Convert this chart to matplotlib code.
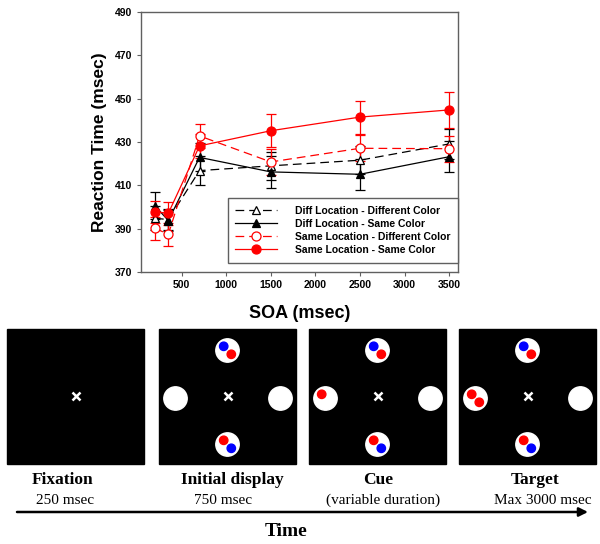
import matplotlib
matplotlib.use('Agg')
import matplotlib.pyplot as plt
from matplotlib.patches import Rectangle, Circle
from matplotlib.lines import Line2D

# --- reaction time data ---
soa = [200, 350, 700, 1500, 2500, 3500]
rt_dl_dc = [394.8, 394.2, 416.8, 419.0, 421.6, 429.1]
rt_dl_sc = [400.6, 393.7, 422.9, 416.2, 415.1, 423.2]
rt_sl_dc = [390.2, 387.4, 432.8, 420.8, 427.1, 426.9]
rt_sl_sc = [397.8, 397.1, 428.2, 435.2, 441.5, 444.8]
err_dl_dc = [5.5, 5.0, 6.8, 6.5, 6.5, 7.0]
err_dl_sc = [6.2, 5.0, 6.5, 7.3, 7.2, 7.2]
err_sl_dc = [5.4, 5.4, 5.5, 6.0, 6.0, 6.0]
err_sl_sc = [5.0, 5.4, 5.5, 7.7, 7.6, 8.2]
labels = ['Diff Location - Different Color', 'Diff Location - Same Color',
          'Same Location - Different Color', 'Same Location - Same Color']

# --- schematic of the trial sequence ---
display_names = ['Fixation', 'Initial display', 'Cue', 'Target']
display_times = ['250 msec', '750 msec', '(variable duration)', 'Max 3000 msec']
# dots inside the placeholders: (upper-left, lower-right) colour or None
display_items = [
    {},
    {'top': ('blue', 'red'), 'bottom': ('red', 'blue'), 'left': (None, None), 'right': (None, None)},
    {'top': ('blue', 'red'), 'bottom': ('red', 'blue'), 'left': ('red', None), 'right': (None, None)},
    {'top': ('blue', 'red'), 'bottom': ('red', 'blue'), 'left': ('red', 'red'), 'right': (None, None)},
]

sans = 'Liberation Sans'
serif = 'Liberation Serif'
gray = '#606060'

fig = plt.figure(figsize=(6.0, 5.44), dpi=100)
ax = fig.add_axes([140.7 / 600, 1 - 272 / 544, (458 - 140.7) / 600, 260 / 544])

series = [
    (rt_dl_dc, err_dl_dc, 'black', (0, (7, 4)), '^', 'white'),
    (rt_dl_sc, err_dl_sc, 'black', '-', '^', 'black'),
    (rt_sl_dc, err_sl_dc, '#ff0000', (0, (7, 4)), 'o', 'white'),
    (rt_sl_sc, err_sl_sc, '#ff0000', '-', 'o', '#ff0000'),
]
handles = []
for (y, e, c, ls, m, fc), lab in zip(series, labels):
    ms = 6.5 if m == 'o' else 6
    ax.errorbar(soa, y, yerr=e, color=c, ls=ls, lw=0.9, marker=m, ms=ms,
                mfc=fc, mec=c, mew=0.9, capsize=3.5, elinewidth=0.9, capthick=0.9)
    handles.append(Line2D([], [], color=c, ls=ls, lw=0.9, marker=m, ms=ms,
                          mfc=fc, mec=c, mew=0.9, label=lab))

ax.set_xlim(40, 3600)
ax.set_ylim(370, 490)
ax.set_xticks([500, 1000, 1500, 2000, 2500, 3000, 3500])
ax.set_yticks(range(370, 491, 20))
for s in ax.spines.values():
    s.set_color(gray)
    s.set_linewidth(1.0)
ax.tick_params(direction='out', length=3, width=0.8, color=gray, pad=3)
for t in ax.get_xticklabels() + ax.get_yticklabels():
    t.set_fontfamily(sans)
    t.set_fontweight('bold')
    t.set_fontsize(7.5)
ax.set_ylabel('Reaction Time (msec)', fontfamily=sans, fontweight='bold', fontsize=12.5, labelpad=5.5)
ax.set_xlabel('SOA (msec)', fontfamily=sans, fontweight='bold', fontsize=13, labelpad=10.5)

leg = ax.legend(handles=handles, loc='lower right', bbox_to_anchor=(1.0, 0.036), borderaxespad=0,
                prop={'family': sans, 'weight': 'bold', 'size': 7.5},
                handlelength=4.0, handletextpad=1.75, labelspacing=0.3,
                fancybox=False, framealpha=1, edgecolor=gray, borderpad=0.72)
leg.get_frame().set_linewidth(1.0)

# --- lower panel in pixel coordinates ---
bx = fig.add_axes([0, 0, 1, 1])
bx.set_xlim(0, 600)
bx.set_ylim(544, 0)
bx.axis('off')

sq_left = [7, 159, 309, 459]
sq_top = 329
sq_w, sq_h = 137, 135
offsets = {'top': (0, -46), 'bottom': (0, 48), 'left': (-52, 2), 'right': (53, 2)}
name_x = [63, 232, 378, 535]
time_x = [65, 223, 383, 543]

for i in range(4):
    cx = sq_left[i] + sq_w / 2
    cy = sq_top + sq_h / 2
    bx.add_patch(Rectangle((sq_left[i], sq_top), sq_w, sq_h, color='black'))
    bx.plot(cx, cy - 1, marker='x', color='white', ms=6, mew=1.8)
    for pos, dots in display_items[i].items():
        px, py = cx + offsets[pos][0], cy + offsets[pos][1]
        bx.add_patch(Circle((px, py), 11.7, color='white'))
        for col, (dx, dy) in zip(dots, [(-3.8, -4.2), (3.8, 3.8)]):
            if col is not None:
                bx.add_patch(Circle((px + dx, py + dy), 4.2,
                                    color='#ff0000' if col == 'red' else '#0000ff'))
    bx.text(name_x[i], 480, display_names[i], ha='center', va='center',
            fontfamily=serif, fontweight='bold', fontsize=12.5)
    bx.text(time_x[i], 500.5, display_times[i], ha='center', va='center',
            fontfamily=serif, fontsize=11)

bx.annotate('', xy=(588, 512), xytext=(17, 512),
            arrowprops=dict(arrowstyle='-|>', color='black', lw=1.8, mutation_scale=13,
                            shrinkA=0, shrinkB=0))
bx.text(286, 531, 'Time', ha='center', va='center', fontfamily=serif,
        fontweight='bold', fontsize=14)

fig.savefig('out.png', dpi=100)
